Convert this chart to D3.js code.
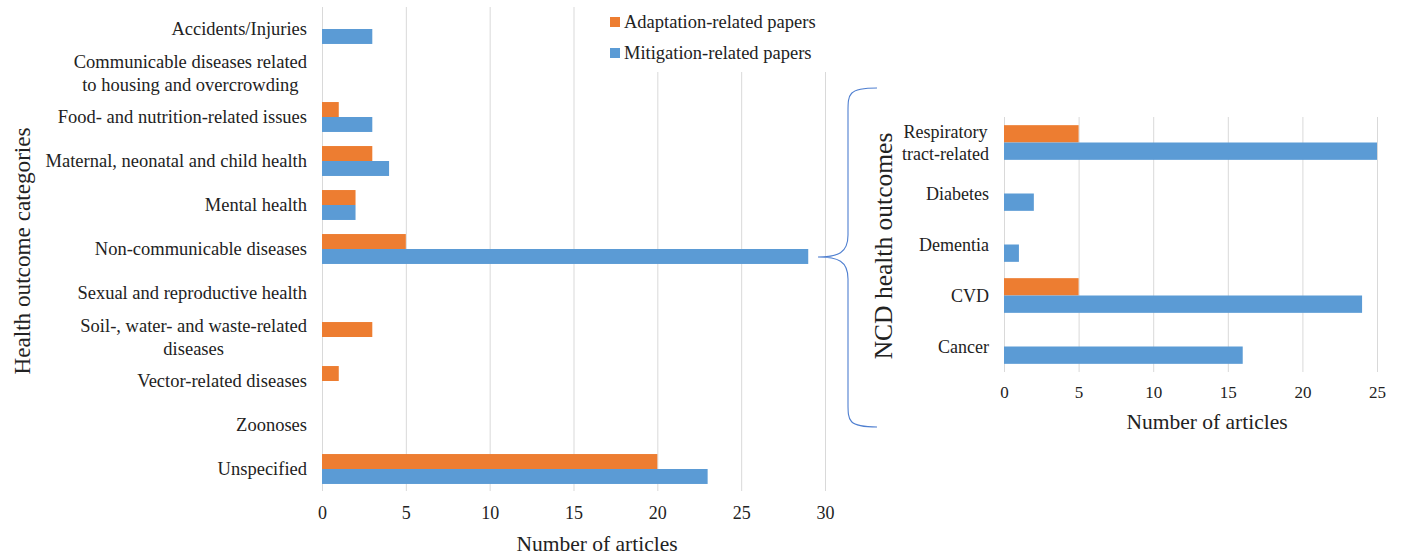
<!DOCTYPE html>
<html>
<head>
<meta charset="utf-8">
<script src="https://cdn.jsdelivr.net/npm/d3@7"></script>
<style>
  html, body { margin: 0; padding: 0; background: #fff; }
  svg { display: block; }
  svg text { font-family: "Liberation Serif", "Times New Roman", serif !important; fill: #222; }
</style>
</head>
<body>
<svg id="chart" width="1402" height="556"></svg>
<script>
// ---- Data ----
const mainCategories = [
  "Accidents/Injuries",
  "Communicable diseases related\nto housing and overcrowding ",
  "Food- and nutrition-related issues",
  "Maternal, neonatal and child health",
  "Mental health",
  "Non-communicable diseases",
  "Sexual and reproductive health",
  "Soil-, water- and waste-related\ndiseases",
  "Vector-related diseases",
  "Zoonoses",
  "Unspecified"
];
const mainAdaptation = [0, 0, 1, 3, 2, 5, 0, 3, 1, 0, 20];
const mainMitigation = [3, 0, 3, 4, 2, 29, 0, 0, 0, 0, 23];
const mainTicks = [0, 5, 10, 15, 20, 25, 30];

const ncdCategories = ["Respiratory\ntract-related", "Diabetes", "Dementia", "CVD", "Cancer"];
const ncdAdaptation = [5, 0, 0, 5, 0];
const ncdMitigation = [25, 2, 1, 24, 16];
const ncdTicks = [0, 5, 10, 15, 20, 25];

const seriesNames = ["Adaptation-related papers", "Mitigation-related papers"];
const seriesColors = ["#ED7D31", "#5B9BD5"];

// ---- Drawing ----
const svg = d3.select("#chart");
const GRID = "#D9D9D9";
const SERIF = "'Liberation Serif', 'Times New Roman', serif";

function drawPanel(opts) {
  const { left, top, width, height, cats, a, m, ticks, max, tickFont, catFont, tickOffset } = opts;
  const g = svg.append("g").attr("transform", `translate(${left},${top})`);
  const x = d3.scaleLinear().domain([0, max]).range([0, width]);
  const y = d3.scaleBand().domain(cats).range([0, height]).paddingInner(0.32).paddingOuter(0.16);

  const xAxis = d3.axisBottom(x).tickValues(ticks).tickSize(-height).tickPadding(tickOffset);
  const ax = g.append("g").attr("transform", `translate(0,${height})`).call(xAxis)
    .attr("font-family", SERIF).attr("font-size", tickFont);
  ax.select(".domain").remove();
  ax.selectAll(".tick line").attr("stroke", GRID).attr("stroke-width", 1);
  ax.selectAll(".tick text").attr("fill", "#222").style("font-size", tickFont + "px");

  const bh = y.bandwidth() / 2;
  const data = cats.map((c, i) => ({ c, a: a[i], m: m[i] }));
  g.selectAll(".barA").data(data).join("rect")
    .attr("x", x(0)).attr("y", d => y(d.c))
    .attr("width", d => x(d.a) - x(0)).attr("height", bh)
    .attr("fill", seriesColors[0]);
  g.selectAll(".barM").data(data).join("rect")
    .attr("x", x(0)).attr("y", d => y(d.c) + bh)
    .attr("width", d => x(d.m) - x(0)).attr("height", bh)
    .attr("fill", seriesColors[1]);

  const lineH = catFont * 1.2;
  cats.forEach(c => {
    const lines = c.split("\n");
    const cy = y(c) + y.bandwidth() / 2;
    const tg = g.append("g");
    const texts = lines.map((ln, k) => tg.append("text")
      .attr("y", cy + (k - (lines.length - 1) / 2) * lineH)
      .attr("dy", "0.35em")
      .style("font-size", catFont + "px")
      .text(ln));
    const widths = texts.map(t => t.node().getComputedTextLength());
    const bw = d3.max(widths);
    const right = -15;
    texts.forEach(t => t.attr("x", right - bw / 2).attr("text-anchor", "middle"));
  });
  return { g, x, y };
}

const L = { left: 322, top: 7, width: 503, height: 484 };
drawPanel({ ...L, cats: mainCategories, a: mainAdaptation, m: mainMitigation,
  ticks: mainTicks, max: 30, tickFont: 18, catFont: 18.5, tickOffset: 15 });

const R = { left: 1004, top: 117, width: 373, height: 255 };
drawPanel({ ...R, cats: ncdCategories, a: ncdAdaptation, m: ncdMitigation,
  ticks: ncdTicks, max: 25, tickFont: 17, catFont: 18, tickOffset: 14 });

svg.append("text").attr("x", 597).attr("y", 551)
  .attr("text-anchor", "middle").style("font-size", "21.5px")
  .text("Number of articles");
svg.append("text").attr("transform", `translate(30,251) rotate(-90)`)
  .attr("text-anchor", "middle").style("font-size", "23.2px")
  .text("Health outcome categories");
svg.append("text").attr("x", 1207).attr("y", 429)
  .attr("text-anchor", "middle").style("font-size", "21.5px")
  .text("Number of articles");
svg.append("text").attr("transform", `translate(892,246) rotate(-90)`)
  .attr("text-anchor", "middle").style("font-size", "25.5px")
  .text("NCD health outcomes");

const lg = svg.append("g").attr("transform", "translate(600,0)");
lg.append("rect").attr("x", 0).attr("y", 0).attr("width", 232).attr("height", 72).attr("fill", "#fff");
seriesNames.forEach((s, i) => {
  const yy = 22 + i * 31;
  lg.append("rect").attr("x", 10).attr("y", yy - 5).attr("width", 10).attr("height", 10).attr("fill", seriesColors[i]);
  lg.append("text").attr("x", 24).attr("y", yy).attr("dy", "0.35em")
    .style("font-size", "18.5px").text(s);
});

const bx = 848, tipX = 818, tipY = 257, topY = 88, botY = 427, endX = 877;
const bracePath = `M${endX},${topY} C${bx},${topY} ${bx},${topY + 6} ${bx},${topY + 24}
  L${bx},${tipY - 22} C${bx},${tipY - 4} ${bx - 10},${tipY} ${tipX},${tipY}
  C${bx - 10},${tipY} ${bx},${tipY + 4} ${bx},${tipY + 22}
  L${bx},${botY - 24} C${bx},${botY - 6} ${bx},${botY} ${endX},${botY}`;
svg.append("path").attr("d", bracePath).attr("fill", "none")
  .attr("stroke", "#4F7FD0").attr("stroke-width", 1.1);
</script>
</body>
</html>
